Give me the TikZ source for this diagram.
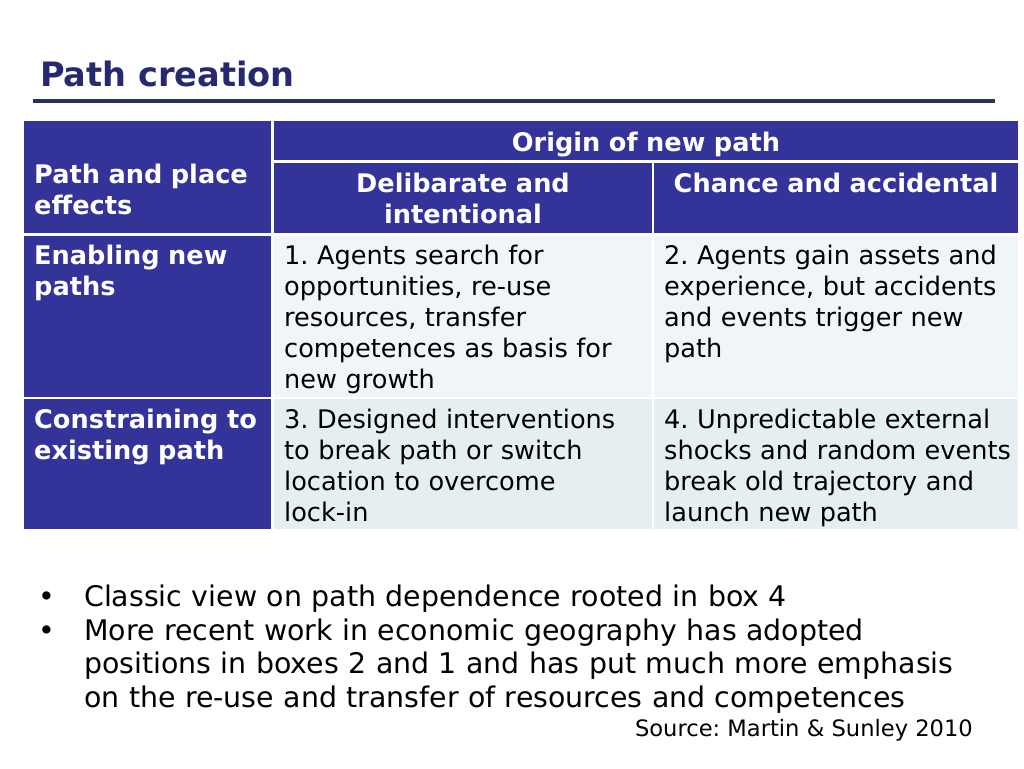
\documentclass[tikz,border=0pt]{standalone}
\usepackage{fontspec}
\setmainfont{DejaVu Sans}
\frenchspacing
\definecolor{hdrblue}{RGB}{51,51,153}
\definecolor{titleblue}{RGB}{38,40,112}
\definecolor{rulecol}{RGB}{33,55,82}
\definecolor{rowone}{RGB}{240,246,247}
\definecolor{rowtwo}{RGB}{229,239,242}
\newcommand\bodyfont{\fontsize{25.6}{31}\selectfont}
\tikzset{
  hdr/.style={anchor=base west, inner sep=0pt, text width=#1, align=left, text=white, font=\bodyfont\bfseries},
  hdrc/.style={anchor=base, inner sep=0pt, text width=#1, align=center, text=white, font=\bodyfont\bfseries},
  cell/.style={anchor=base west, inner sep=0pt, text width=#1, align=left, font=\bodyfont}
}
\begin{document}
\begin{tikzpicture}[x=1pt, y=-1pt]
\useasboundingbox (0,0) rectangle (1024,768);
\node (title) at (40,86)[anchor=base west, inner sep=0pt, text=titleblue, font=\fontsize{33.6}{40}\selectfont\bfseries]{Path creation};
\draw[rulecol, line width=4pt] (33,101)--(995,101);

% header cells
\fill[hdrblue] (24,121) rectangle (271,233);
\fill[hdrblue] (274,121) rectangle (1018,160);
\fill[hdrblue] (274,163) rectangle (652,233);
\fill[hdrblue] (654,163) rectangle (1018,233);
\fill[hdrblue] (24,236) rectangle (271,397);
\fill[hdrblue] (24,399) rectangle (271,529);
% body cells
\fill[rowone] (274,236) rectangle (652,397);
\fill[rowone] (654,236) rectangle (1018,397);
\fill[rowtwo] (274,399) rectangle (652,529);
\fill[rowtwo] (654,399) rectangle (1018,529);

\node (effects) at (34,183)[hdr=230]{Path and place\\effects};
\node (origin) at (646,151)[hdrc=700]{Origin of new path};
\node (delib) at (463,192)[hdrc=360]{Delibarate and\\intentional};
\node (chance) at (836,192)[hdrc=360]{Chance and accidental};
\node (enabling) at (34,264)[hdr=230]{Enabling new\\paths};
\node (constr) at (34,428)[hdr=230]{Constraining to\\existing path};

\node (box1) at (284,264)[cell=362]{1. Agents search for\\opportunities, re-use\\resources, transfer\\competences as basis for\\new growth};
\node (box2) at (664,264)[cell=352]{2. Agents gain assets and\\experience, but accidents\\and events trigger new\\path};
\node (box3) at (284,428)[cell=362]{3. Designed interventions\\to break path or switch\\location to overcome\\lock-in};
\node (box4) at (664,428)[cell=352]{4. Unpredictable external\\shocks and random events\\break old trajectory and\\launch new path};

% bullets
\node (dot1) at (47,606)[anchor=base, inner sep=0pt, font=\fontsize{28.4}{33.7}\selectfont]{•};
\node (dot2) at (47,640)[anchor=base, inner sep=0pt, font=\fontsize{28.4}{33.7}\selectfont]{•};
\node (bul1) at (84,606)[cell=920, font=\fontsize{28.4}{33.7}\selectfont]{Classic view on path dependence rooted in box 4};
\node (bul2) at (84,640)[cell=920, font=\fontsize{28.4}{33.7}\selectfont]{More recent work in economic geography has adopted\\positions in boxes 2 and 1 and has put much more emphasis\\on the re-use and transfer of resources and competences};
\node (source) at (973,736)[anchor=base east, inner sep=0pt, font=\fontsize{22.6}{27}\selectfont]{Source: Martin \& Sunley 2010};
\end{tikzpicture}
\end{document}
